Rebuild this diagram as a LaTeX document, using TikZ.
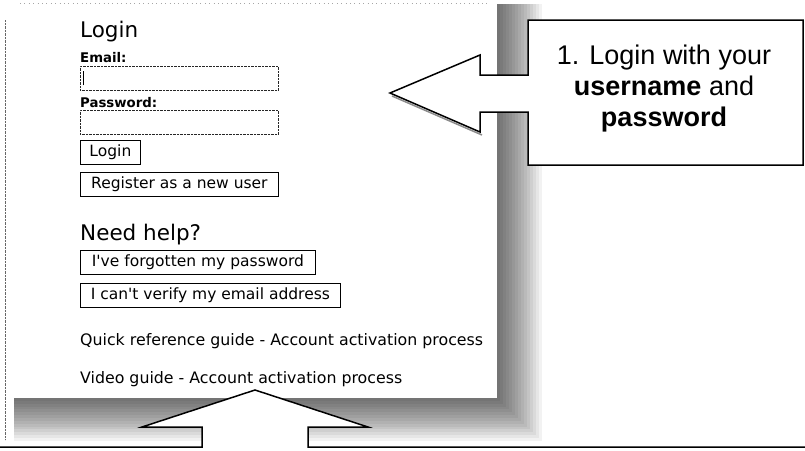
\documentclass[tikz,border=0pt]{standalone}
\usepackage{fontspec}
\setmainfont{DejaVu Sans}
\newfontfamily\calloutfont{Liberation Sans}
\usetikzlibrary{positioning}

\begin{document}
\begin{tikzpicture}[x=1pt, y=-1pt,
    field/.style={rectangle, draw=black!85, densely dotted, minimum width=198pt, minimum height=24pt, anchor=north west, inner sep=0pt},
    button/.style={rectangle, draw, line width=0.8pt, minimum height=24pt, anchor=north west, inner sep=0pt, font=\fontsize{15.5}{17}\selectfont},
    fieldname/.style={anchor=base west, inner sep=0pt, font=\bfseries\fontsize{13.3}{15}\selectfont},
    headline/.style={anchor=base west, inner sep=0pt, font=\fontsize{21.5}{24}\selectfont},
    linktext/.style={anchor=base west, inner sep=0pt, font=\fontsize{15.8}{18}\selectfont},
    callout/.style={draw, line width=1.5pt, fill=white, line join=miter}
]
    \useasboundingbox (0,0) rectangle (805,450);

    % Shadow of the page
    \foreach \d in {3,6,...,45}
        \fill[black, opacity=0.05] (14,4) rectangle (497+\d, 398+\d*0.95);
    \fill[white] (0,0) rectangle (497,398);
    \draw[black!60, densely dotted] (5,20) -- (5,440);
    \draw[black!35, loosely dotted] (20,3) -- (490,3);

    % Login form
    \node[headline] (login) at (80,37) {Login};
    \node[fieldname] (emaillbl) at (80,62) {Email:};
    \node[field] (email) at (80,66) {};
    \draw[line width=1pt] ([xshift=3pt,yshift=5pt]email.south west) -- ([xshift=3pt,yshift=-5pt]email.north west);
    \node[fieldname] (passlbl) at (80,107) {Password:};
    \node[field] (pass) at (80,110) {};
    \node[button, minimum width=60pt] (loginbtn) at (80,140) {Login};
    \node[button, minimum width=198pt] (register) at (80,172) {Register as a new user};

    % Help
    \node[headline] (help) at (80,240) {Need help?};
    \node[button, minimum width=235pt] (forgot) at (80,250) {I\textquotesingle ve forgotten my password};
    \node[button, minimum width=260pt] (verify) at (80,283) {I can\textquotesingle t verify my email address};
    \node[linktext] (quick) at (80,345) {Quick reference guide - Account activation process};
    \node[linktext] (video) at (80,383) {Video guide - Account activation process};

    % Callouts
    \draw[black!45, line width=1.5pt] (392,96) -- (482,135);
    \draw[callout] (803,20) -- (528,20) -- (528,75) -- (480,75) -- (480,55) -- (390,93)
        -- (480,132) -- (480,112) -- (528,112) -- (528,165) -- (803,165) -- cycle;
    \node[font=\calloutfont\fontsize{27}{31}\selectfont, align=center] (step1) at (664,89)
        {1. Login with your\\\textbf{username} and\\\textbf{password}};

    \draw[callout] (-2,447) -- (202,447) -- (202,427) -- (142,427) -- (255,390)
        -- (368,427) -- (308,427) -- (308,447) -- (807,447) -- (807,460) -- (-2,460) -- cycle;

\end{tikzpicture}
\end{document}
